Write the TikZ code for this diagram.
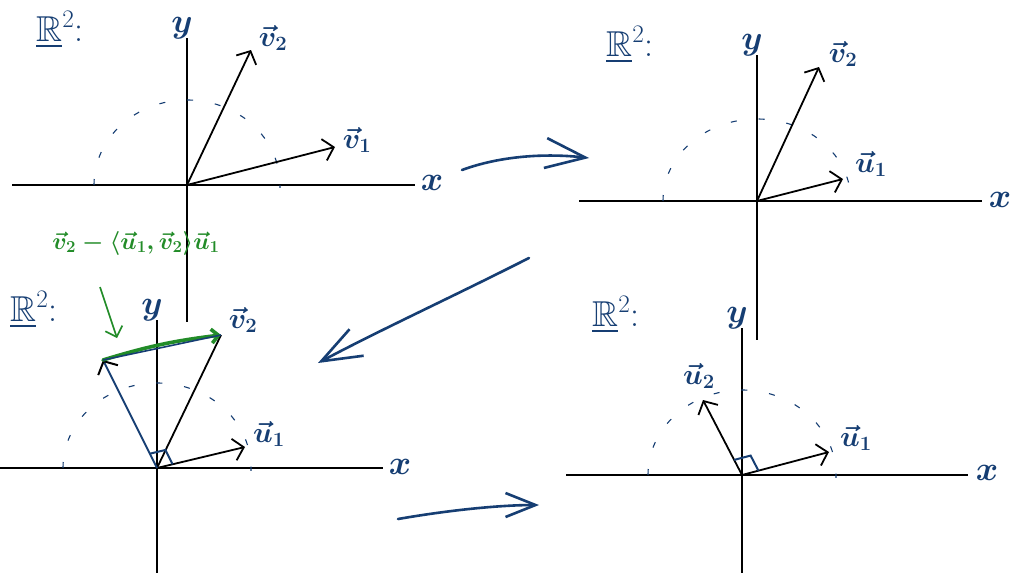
\documentclass[tikz,border=0pt]{standalone}
\usepackage{fix-cm}
\usepackage{amssymb}
\usetikzlibrary{arrows.meta,calc}
\definecolor{ink}{RGB}{22,62,115}
\definecolor{pen}{RGB}{34,140,40}

\begin{document}
\begin{tikzpicture}[x=1pt, y=-1pt,
    axis/.style={line width=2.4pt},
    vec/.style={line width=1.8pt, -{Straight Barb[length=10pt,width=22pt]}},
    circ/.style={ink, line width=1.1pt, dash pattern=on 6pt off 22pt},
    lbl/.style={ink, font=\fontsize{29}{33}\selectfont\boldmath},
    axlbl/.style={ink, font=\fontsize{34}{38}\selectfont\boldmath},
    space/.style={ink, font=\fontsize{36}{40}\selectfont},
    move/.style={ink, line width=2.6pt, line cap=round, -{Straight Barb[length=40pt,width=30pt]}}]

    \fill[white] (0,0) rectangle (1028,573);
    \useasboundingbox (0,0) rectangle (1028,573);

    % top left: v1, v2
    \coordinate (O1) at (187,185);
    \coordinate (xa1) at (12,185);
    \coordinate (xb1) at (415,185);
    \coordinate (ya1) at (187,38);
    \coordinate (yb1) at (187,322);
    \coordinate (v1a) at (335,147);
    \coordinate (v2a) at (251,50);
    \draw[axis] (xa1) -- (xb1);
    \draw[axis] (ya1) -- (yb1);
    \draw[circ] (O1) ++(-93,0) arc[start angle=180, end angle=362, x radius=93, y radius=85];
    \draw[vec] (O1) -- (v1a);
    \draw[vec] (O1) -- (v2a);
    \node[axlbl] (x1) at (432,183) {$x$};
    \node[axlbl] (y1) at (182,28) {$y$};
    \node[space] (r1) at (60,30) {\underline{$\mathbb{R}$}$^2$:};
    \node[lbl] (v1lbl) at (357,140) {$\vec{v}_1$};
    \node[lbl] (v2lbl) at (273,38) {$\vec{v}_2$};

    % top right: u1, v2
    \coordinate (O2) at (757,201);
    \coordinate (xa2) at (579,201);
    \coordinate (xb2) at (982,201);
    \coordinate (ya2) at (757,55);
    \coordinate (yb2) at (757,340);
    \coordinate (u1b) at (843,179);
    \coordinate (v2b) at (819,67);
    \draw[axis] (xa2) -- (xb2);
    \draw[axis] (ya2) -- (yb2);
    \draw[circ] (O2) ++(-94,0) arc[start angle=180, end angle=362, x radius=94, y radius=82];
    \draw[vec] (O2) -- (u1b);
    \draw[vec] (O2) -- (v2b);
    \node[axlbl] (x2) at (1000,200) {$x$};
    \node[axlbl] (y2) at (752,45) {$y$};
    \node[space] (r2) at (630,45) {\underline{$\mathbb{R}$}$^2$:};
    \node[lbl] (u1blbl) at (871,164) {$\vec{u}_1$};
    \node[lbl] (v2blbl) at (843,54) {$\vec{v}_2$};

    % bottom left: v2 minus its projection
    \coordinate (O3) at (157,468);
    \coordinate (xa3) at (0,468);
    \coordinate (xb3) at (383,468);
    \coordinate (ya3) at (157,320);
    \coordinate (yb3) at (157,573);
    \coordinate (u1c) at (245,447);
    \coordinate (v2c) at (221,335);
    \coordinate (w3) at (103,360);
    \draw[axis] (xa3) -- (xb3);
    \draw[axis] (ya3) -- (yb3);
    \draw[circ] (O3) ++(-94,0) arc[start angle=180, end angle=362, x radius=94, y radius=85];
    \draw[vec] (O3) -- (u1c);
    \draw[line width=1.8pt] (O3) -- (v2c);
    \draw[ink, line width=2pt, -{Straight Barb[length=10pt,width=22pt,color=black]}] (O3) -- (w3);
    \draw[pen, line width=3.6pt, line cap=round, -{Straight Barb[length=7pt,width=14pt]}] (w3) to[bend left=5] (v2c);
    \draw[ink, line width=1.6pt] (w3) -- (v2c);
    \coordinate (ra3) at ($(O3)!16pt!(u1c)$);
    \coordinate (rb3) at ($(O3)!16pt!(w3)$);
    \coordinate (rc3) at ($(ra3)+(rb3)-(O3)$);
    \draw[ink, line width=2pt] (ra3) -- (rc3) -- (rb3);
    \node[axlbl] (x3) at (400,467) {$x$};
    \node[axlbl] (y3) at (152,310) {$y$};
    \node[space] (r3) at (34,310) {\underline{$\mathbb{R}$}$^2$:};
    \node[lbl] (u1clbl) at (269,434) {$\vec{u}_1$};
    \node[lbl] (v2clbl) at (243,320) {$\vec{v}_2$};
    \node[pen, font=\fontsize{24}{28}\selectfont\boldmath] (proj) at (136,243)
        {$\vec{v}_2-\langle\vec{u}_1,\vec{v}_2\rangle\vec{u}_1$};
    \coordinate (pa) at (100,287);
    \coordinate (pb) at (117,338);
    \draw[pen, line width=1.6pt, -{Straight Barb[length=9pt,width=18pt]}] (pa) -- (pb);

    % bottom right: u1, u2
    \coordinate (O4) at (742,475);
    \coordinate (xa4) at (566,475);
    \coordinate (xb4) at (968,475);
    \coordinate (ya4) at (742,328);
    \coordinate (yb4) at (742,573);
    \coordinate (u1d) at (829,452);
    \coordinate (u2d) at (703,400);
    \draw[axis] (xa4) -- (xb4);
    \draw[axis] (ya4) -- (yb4);
    \draw[circ] (O4) ++(-94,0) arc[start angle=180, end angle=362, x radius=94, y radius=85];
    \draw[vec] (O4) -- (u1d);
    \draw[vec] (O4) -- (u2d);
    \coordinate (ra4) at ($(O4)!17pt!(u1d)$);
    \coordinate (rb4) at ($(O4)!17pt!(u2d)$);
    \coordinate (rc4) at ($(ra4)+(rb4)-(O4)$);
    \draw[ink, line width=2pt] (ra4) -- (rc4) -- (rb4);
    \node[axlbl] (x4) at (987,473) {$x$};
    \node[axlbl] (y4) at (737,318) {$y$};
    \node[space] (r4) at (616,315) {\underline{$\mathbb{R}$}$^2$:};
    \node[lbl] (u1dlbl) at (856,438) {$\vec{u}_1$};
    \node[lbl] (u2dlbl) at (699,376) {$\vec{u}_2$};

    % steps between the panels
    \coordinate (m1a) at (462,170);
    \coordinate (m1b) at (589,158);
    \coordinate (m2a) at (529,258);
    \coordinate (m2b) at (318,363);
    \coordinate (m3a) at (398,519);
    \coordinate (m3b) at (539,505);
    \draw[move] (m1a) .. controls (500,156) and (545,153) .. (m1b);
    \draw[move] (m2a) .. controls (450,298) and (380,330) .. (m2b);
    \draw[move, -{Straight Barb[length=30pt,width=24pt]}] (m3a) .. controls (450,510) and (500,505) .. (m3b);
\end{tikzpicture}
\end{document}
